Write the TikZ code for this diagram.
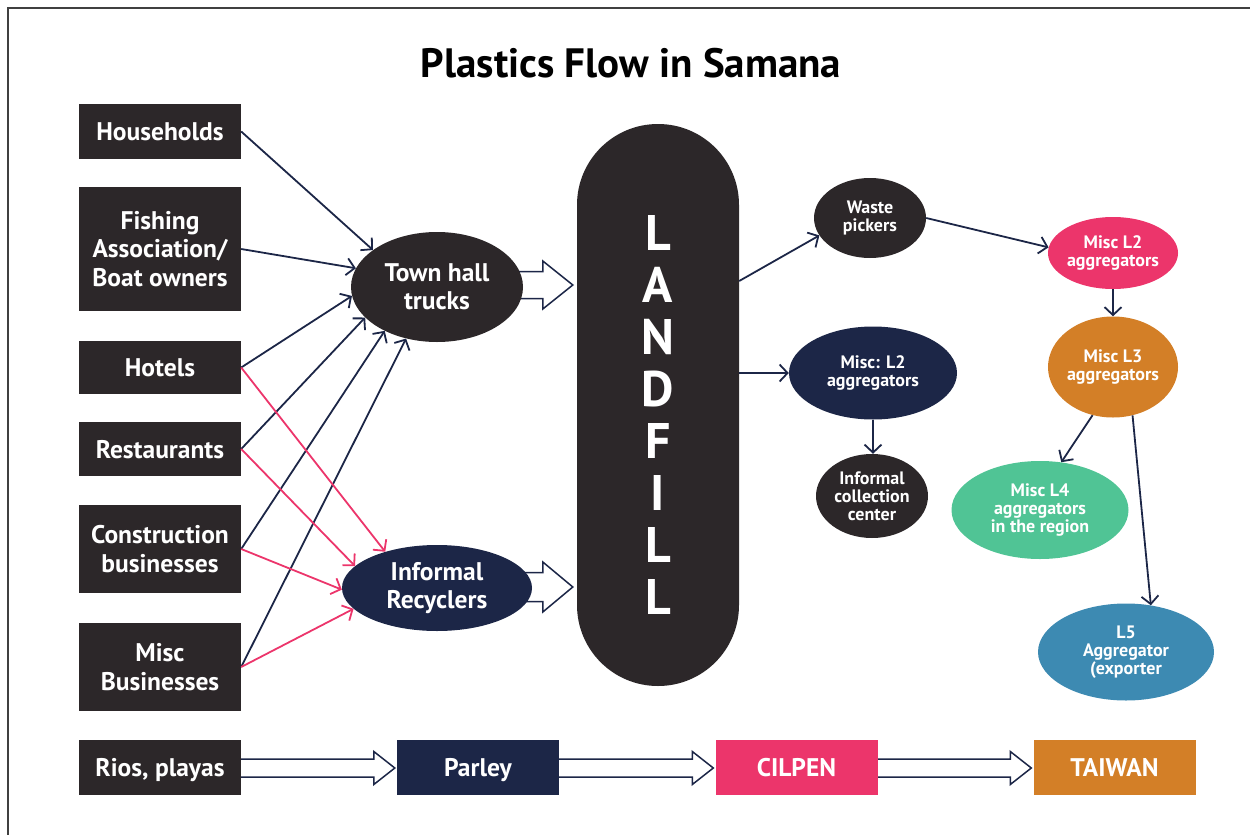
\documentclass[tikz,border=0pt]{standalone}
\usepackage{fontspec}
\setmainfont{PT Sans}
\usetikzlibrary{arrows.meta,calc,backgrounds,shapes.geometric}
\definecolor{dark}{HTML}{2C2729}
\definecolor{navy}{HTML}{1C2647}
\definecolor{pinkc}{HTML}{EC356B}
\definecolor{orangec}{HTML}{D37F27}
\definecolor{greenc}{HTML}{50C495}
\definecolor{bluec}{HTML}{3D8AB2}
\newcommand\blockarr[7]{%
  \draw[barrow] let \p1=(#1.center), \p2=(#2.west) in
   (\x1,\y1+#3+#4) -- (\x2-#7-#6,\y1+#3+#4) -- (\x2-#7-#6,\y1+#3+#5) -- (\x2-#7,\y1+#3)
   -- (\x2-#7-#6,\y1+#3-#5) -- (\x2-#7-#6,\y1+#3-#4) -- (\x1,\y1+#3-#4);}
\begin{document}
\begin{tikzpicture}[x=1pt,y=-1pt,
  lbox/.style={rectangle, fill=dark, text=white, minimum width=162, inner sep=0pt,
    align=center, font=\bfseries\fontsize{25.5}{28.5}\selectfont},
  oneline/.style={text height=18pt, text depth=0pt},
  bell/.style={ellipse, fill=#1, text=white, inner sep=0pt, align=center,
    font=\bfseries\fontsize{25.5}{28}\selectfont},
  sell/.style={ellipse, fill=#1, text=white, inner sep=0pt, align=center,
    font=\bfseries\fontsize{18}{18}\selectfont},
  tarr/.style={draw=navy, line width=1.8pt, -{Straight Barb[length=8pt,width=17pt,line width=1.8pt]}},
  parr/.style={draw=pinkc, line width=1.8pt, -{Straight Barb[length=8pt,width=17pt,line width=1.8pt]}},
  barrow/.style={draw=navy, fill=white, line width=1.5pt, line join=miter},
  title/.style={font=\bfseries\fontsize{41}{44}\selectfont, text=black}]
\useasboundingbox (0,0) rectangle (1250,835);
\draw[gray!50!black, line width=1.5pt] (8,835) -- (8,8) -- (1250,8);

\node[title] (ttl) at (631,63) {Plastics Flow in Samana};

% left sources
\node[lbox, oneline, minimum height=55] (hh) at (160,131.5) {Households};
\node[lbox, minimum height=124] (fa) at (160,249) {Fishing\\Association/\\Boat owners};
\node[lbox, oneline, minimum height=53] (ho) at (160,367.5) {Hotels};
\node[lbox, oneline, minimum height=54] (re) at (160,449) {Restaurants};
\node[lbox, minimum height=88] (cb) at (160,549) {Construction\\businesses};
\node[lbox, minimum height=88] (mb) at (160,667) {Misc\\Businesses};

% bottom row
\node[lbox, oneline, minimum height=55] (rp) at (160,767.5) {Rios, playas};
\node[lbox, oneline, fill=navy, minimum height=55] (pa) at (478,767.5) {Parley};
\node[lbox, oneline, fill=pinkc, minimum height=55] (ci) at (796.5,767.5) {CILPEN};
\node[lbox, oneline, fill=orangec, minimum height=55] (tw) at (1114.5,767.5) {TAIWAN};

% middle
\node[bell=dark, minimum width=172, minimum height=110] (th) at (437,287) {Town hall\\trucks};
\node[bell=navy, minimum width=190, minimum height=86] (ir) at (437,588) {Informal\\Recyclers};
\node[fill=dark, rounded corners=80.9pt, minimum width=162, minimum height=562, inner sep=0pt] (lf) at (658,405) {};
\node[text=white, align=center, inner sep=0pt, font=\bfseries\fontsize{50}{52}\selectfont] (lft) at (658,415) {L\\A\\N\\D\\F\\I\\L\\L};

% right
\node[sell=dark, minimum width=112, minimum height=80] (wp) at (870,218) {Waste\\pickers};
\node[sell=pinkc, minimum width=130, minimum height=72] (m2) at (1113,253) {Misc L2\\aggregators};
\node[sell=orangec, minimum width=130, minimum height=101] (m3) at (1113,367) {Misc L3\\aggregators};
\node[sell=navy, minimum width=168, minimum height=93] (ml2) at (873,373) {Misc: L2\\aggregators};
\node[sell=dark, minimum width=112, minimum height=84] (ic) at (872,496) {Informal\\collection\\center};
\node[sell=greenc, minimum width=177, minimum height=98] (m4) at (1040,510) {Misc L4\\aggregators\\in the region};
\node[sell=bluec, minimum width=176, minimum height=97] (l5) at (1126,652) {L5\\Aggregator\\(exporter};

% block arrows
\begin{scope}[on background layer]
\blockarr{th}{lf}{2pt}{13.5pt}{24pt}{30pt}{4pt}
\blockarr{ir}{lf}{1pt}{14.5pt}{25pt}{30pt}{4pt}
\blockarr{rp}{pa}{-0.5pt}{9pt}{16.5pt}{21pt}{2pt}
\blockarr{pa}{ci}{-0.5pt}{9pt}{16.5pt}{21pt}{2pt}
\blockarr{ci}{tw}{-0.5pt}{9pt}{16.5pt}{21pt}{2pt}
\end{scope}

% left thin arrows
\draw[tarr] (hh.east) -- (th.150);
\draw[tarr] (fa.east) -- (th.167);
\draw[tarr] (ho.east) -- (th.186);
\draw[tarr] (re.east) -- (th.203);
\draw[tarr] (cb.east) -- (th.220);
\draw[tarr] (mb.east) -- (th.239);
\draw[parr] (ho.east) -- (ir.145);
\draw[parr] (re.east) -- (ir.165);
\draw[parr] (cb.east) -- (ir.181);
\draw[parr] (mb.east) -- (ir.194);

% right thin arrows
\draw[tarr] ([yshift=124pt]lf.east) -- (wp.199);
\draw[tarr] (wp.east) -- (m2.175);
\draw[tarr] (m2.south) -- (m3.north);
\draw[tarr] ([yshift=32pt]lf.east) -- (ml2.west);
\draw[tarr] (ml2.south) -- (ml2.south |- ic.north);
\draw[tarr] (m3.247) -- (m4.66);
\draw[tarr] (m3.292) -- (l5.62);
\end{tikzpicture}
\end{document}
